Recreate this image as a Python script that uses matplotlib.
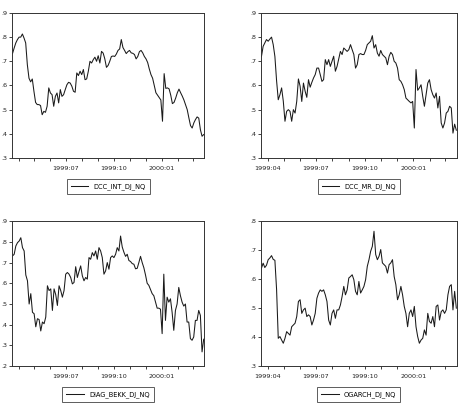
import matplotlib
matplotlib.use("Agg")
import matplotlib.pyplot as plt
import matplotlib.dates as mdates
from matplotlib.ticker import FuncFormatter, MultipleLocator
import numpy as np
import pandas as pd

start = "1999-03-20"
end = "2000-03-22"

dcc_int = [.732, .755, .776, .79, .80, .80, .813, .796, .776, .686, .63, .615, .627, .576,
           .53, .521, .521, .517, .479, .493, .489, .514, .59, .569, .562, .514, .555, .569,
           .528, .583, .555, .562, .583, .603, .613, .61, .597, .576, .572, .652, .641, .659,
           .645, .666, .624, .627, .659, .70, .693, .707, .717, .70, .723, .693, .741, .734,
           .71, .675, .683, .70, .72, .722, .72, .73, .745, .751, .79, .757, .745, .732, .74,
           .745, .735, .733, .728, .71, .72, .74, .745, .735, .72, .71, .695, .668, .645, .63,
           .60, .57, .56, .55, .54, .452, .649, .588, .59, .586, .56, .525, .53, .548, .57,
           .585, .57, .556, .54, .52, .50, .466, .434, .424, .445, .459, .47, .465, .417, .39,
           .397]

dcc_mr = [.72, .762, .776, .79, .783, .792, .80, .769, .72, .62, .541, .562, .59, .535, .452,
          .493, .50, .493, .452, .50, .486, .534, .627, .597, .534, .61, .576, .551, .624,
          .593, .613, .631, .645, .672, .672, .645, .617, .624, .707, .686, .707, .679, .70,
          .721, .659, .679, .71, .741, .728, .755, .748, .741, .748, .769, .748, .728, .672,
          .686, .728, .732, .728, .728, .745, .769, .776, .783, .806, .755, .769, .734, .721,
          .745, .728, .721, .714, .686, .721, .737, .728, .70, .693, .672, .624, .617, .603,
          .583, .548, .541, .534, .528, .534, .424, .666, .58, .59, .603, .555, .514, .562,
          .61, .624, .583, .562, .548, .569, .507, .555, .445, .424, .445, .486, .493, .514,
          .507, .403, .44, .415]

diag_bekk = [.732, .74, .78, .796, .804, .82, .772, .756, .64, .612, .50, .55, .46, .453, .39,
             .429, .425, .37, .413, .405, .437, .588, .565, .573, .469, .573, .545, .493, .588,
             .565, .533, .565, .644, .652, .644, .628, .597, .604, .68, .628, .657, .684, .636,
             .612, .628, .62, .724, .716, .748, .732, .756, .716, .772, .756, .724, .644, .66,
             .70, .668, .724, .732, .724, .74, .772, .756, .828, .775, .75, .73, .74, .71, .705,
             .695, .692, .67, .672, .70, .73, .70, .675, .64, .60, .59, .57, .55, .54, .51, .48,
             .48, .475, .357, .644, .421, .533, .509, .525, .46, .373, .469, .50, .58, .54,
             .509, .49, .50, .413, .413, .333, .325, .341, .421, .421, .469, .445, .269, .33]

ogarch = [.638, .655, .64, .648, .667, .673, .681, .668, .665, .565, .396, .402, .39, .379,
          .396, .419, .413, .407, .436, .442, .448, .471, .523, .529, .482, .494, .50, .471,
          .477, .471, .442, .459, .482, .534, .552, .563, .558, .563, .546, .523, .459, .442,
          .482, .494, .465, .494, .494, .511, .54, .575, .546, .563, .604, .609, .615, .598,
          .558, .546, .592, .552, .563, .575, .598, .644, .667, .696, .713, .765, .685, .667,
          .679, .702, .656, .65, .644, .621, .65, .656, .667, .609, .581, .529, .546, .575,
          .546, .506, .482, .436, .482, .494, .471, .506, .436, .402, .379, .39, .396, .425,
          .407, .482, .454, .448, .471, .436, .506, .511, .459, .488, .494, .482, .494, .546,
          .575, .581, .494, .558, .50]

panels = [
    ("DCC_INT_DJ_NQ", dcc_int, (.3, .9), False),
    ("DCC_MR_DJ_NQ", dcc_mr, (.3, .9), True),
    ("DIAG_BEKK_DJ_NQ", diag_bekk, (.2, .9), False),
    ("OGARCH_DJ_NQ", ogarch, (.3, .8), True),
]

boxes = [
    [0.026, 0.622, 0.417, 0.347],
    [0.566, 0.622, 0.425, 0.347],
    [0.026, 0.124, 0.417, 0.347],
    [0.566, 0.124, 0.425, 0.347],
]

plt.rcParams["font.family"] = "DejaVu Sans"
fig = plt.figure(figsize=(4.61, 4.18), dpi=100)

for (name, vals, ylim, show_apr), box in zip(panels, boxes):
    ax = fig.add_axes(box)
    dates = pd.date_range(start, end, periods=len(vals))
    ax.plot(dates, vals, color="#1a1a1a", lw=0.75, label=name)
    ax.set_xlim(pd.Timestamp("1999-03-19"), pd.Timestamp("2000-03-23"))
    ax.set_ylim(*ylim)
    ax.yaxis.set_major_locator(MultipleLocator(0.1))
    ax.yaxis.set_major_formatter(FuncFormatter(lambda v, p: ("%.1f" % v).lstrip("0")))

    quarters = ["1999-07-01", "1999-10-01", "2000-01-01"]
    if show_apr:
        quarters = ["1999-04-01"] + quarters
    ax.set_xticks([pd.Timestamp(q) for q in quarters])
    ax.xaxis.set_major_formatter(mdates.DateFormatter("%Y:%m"))
    ax.xaxis.set_minor_locator(mdates.MonthLocator())

    ax.tick_params(axis="both", which="both", direction="out", length=2.5, width=0.6,
                   labelsize=4.6, colors="#222222", pad=1)
    ax.tick_params(axis="x", pad=3)
    for s in ax.spines.values():
        s.set_linewidth(0.7)
        s.set_color("#333333")

    leg = ax.legend(loc="center", bbox_to_anchor=(0.5, -0.195), fontsize=4.8,
                    frameon=True, fancybox=False, handlelength=2.6, handletextpad=0.8,
                    borderpad=0.6, borderaxespad=0)
    leg.get_frame().set_edgecolor("#333333")
    leg.get_frame().set_linewidth(0.7)

fig.savefig("out.png", dpi=100)
